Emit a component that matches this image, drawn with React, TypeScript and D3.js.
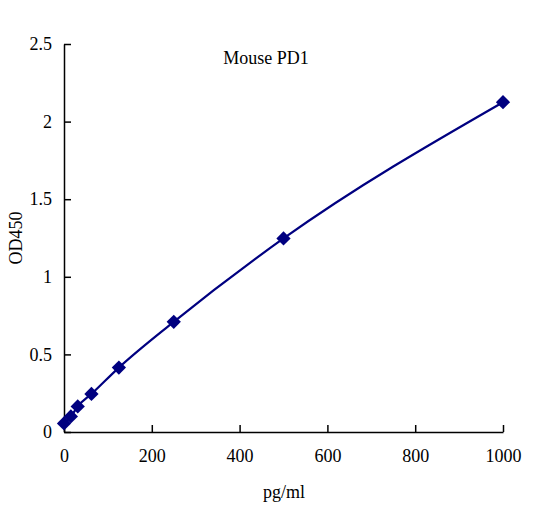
import React, { useEffect, useRef } from 'react';
import * as d3 from 'd3';

const concentrations = [0, 15.625, 31.25, 62.5, 125, 250, 500, 1000];
const odValues = [0.055, 0.1, 0.165, 0.245, 0.415, 0.71, 1.247, 2.125];
const xTicks = [0, 200, 400, 600, 800, 1000];
const yTicks = [0, 0.5, 1, 1.5, 2, 2.5];

const FONT = '"Liberation Serif", "DejaVu Serif", serif';
const NAVY = '#000080';

const App: React.FC = () => {
  const svgRef = useRef<SVGSVGElement>(null);

  useEffect(() => {
    const svg = d3.select(svgRef.current);
    svg.selectAll('*').remove();

    const margin = { top: 44, right: 31, bottom: 85, left: 64 };
    const width = 534, height = 517;
    const chartWidth = width - margin.left - margin.right;
    const chartHeight = height - margin.top - margin.bottom;

    const g = svg.append('g').attr('transform', `translate(${margin.left},${margin.top})`);

    const x = d3.scaleLinear().domain([0, 1000]).range([0, chartWidth]);
    const y = d3.scaleLinear().domain([0, 2.5]).range([chartHeight, 0]);

    const yAxisG = g.append('g').call(
      d3.axisLeft(y).tickValues(yTicks).tickFormat(d => String(d)).tickSizeInner(-7).tickSizeOuter(0).tickPadding(12)
    );
    const xAxisG = g.append('g')
      .attr('transform', `translate(0,${chartHeight})`)
      .call(d3.axisBottom(x).tickValues(xTicks).tickFormat(d => String(d)).tickSizeInner(-7).tickSizeOuter(0).tickPadding(17));

    [yAxisG, xAxisG].forEach(a => {
      a.selectAll('.domain, .tick line').attr('stroke', '#000').attr('stroke-width', 1.5);
      a.selectAll('text').attr('fill', '#000').attr('font-size', 18).attr('font-family', FONT);
    });

    const pts: [number, number][] = concentrations.map((c, i) => [c, odValues[i]]);

    const line = d3.line<[number, number]>()
      .x(d => x(d[0]))
      .y(d => y(d[1]))
      .curve(d3.curveMonotoneX);

    g.append('path')
      .datum(pts)
      .attr('d', line)
      .attr('fill', 'none')
      .attr('stroke', NAVY)
      .attr('stroke-width', 2.2);

    const sym = d3.symbol().type(d3.symbolDiamond2).size(130);
    g.selectAll('path.marker')
      .data(pts)
      .enter()
      .append('path')
      .attr('class', 'marker')
      .attr('d', sym)
      .attr('transform', d => `translate(${x(d[0])},${y(d[1])})`)
      .attr('fill', NAVY);

    svg.append('text')
      .attr('x', 266)
      .attr('y', 64)
      .attr('text-anchor', 'middle')
      .attr('font-family', FONT)
      .attr('font-size', 18)
      .text('Mouse PD1');

    svg.append('text')
      .attr('x', 284)
      .attr('y', 498)
      .attr('text-anchor', 'middle')
      .attr('font-family', FONT)
      .attr('font-size', 18)
      .text('pg/ml');

    svg.append('text')
      .attr('transform', `translate(22,238) rotate(-90)`)
      .attr('text-anchor', 'middle')
      .attr('font-family', FONT)
      .attr('font-size', 18)
      .text('OD450');
  }, []);

  return (
    <svg
      ref={svgRef}
      width={534}
      height={517}
      style={{ position: 'absolute', left: 0, top: 0, background: '#fff' }}
    />
  );
};

export default App;
